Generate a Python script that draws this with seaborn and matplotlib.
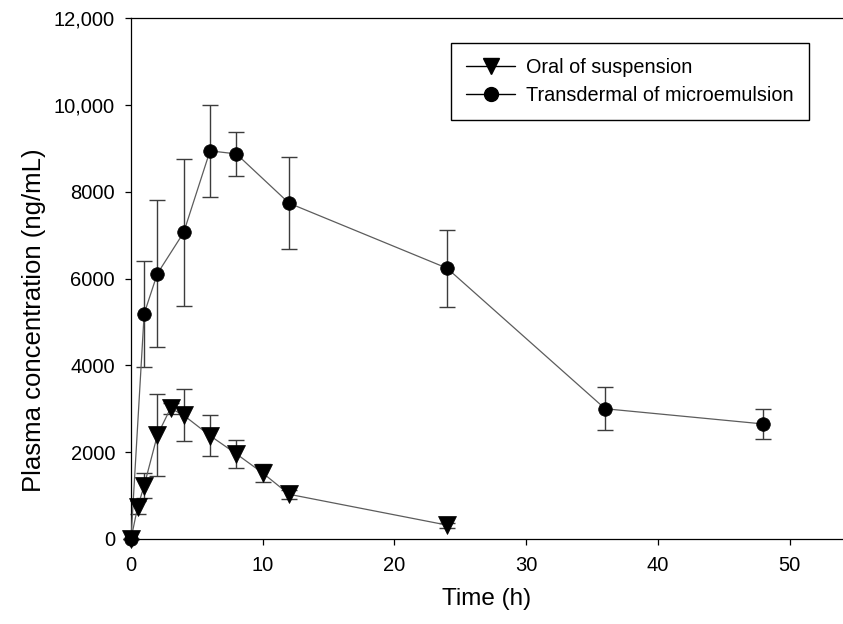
import matplotlib
matplotlib.use("Agg")
import matplotlib.pyplot as plt
import seaborn as sns
import pandas as pd
from matplotlib.lines import Line2D
from matplotlib.ticker import FixedLocator, FixedFormatter

# ---- data ----
oral_time = [0, 0.5, 1, 2, 3, 4, 6, 8, 10, 12, 24]
oral_conc = [0, 730, 1230, 2390, 3010, 2850, 2380, 1960, 1520, 1030, 320]
oral_sd = [0, 150, 280, 945, 120, 600, 470, 320, 210, 110, 60]

td_time = [0, 1, 2, 4, 6, 8, 12, 24, 36, 48]
td_conc = [0, 5190, 6110, 7060, 8940, 8870, 7735, 6237, 3000, 2650]
td_sd = [0, 1220, 1690, 1700, 1060, 510, 1060, 890, 490, 340]

series_labels = ["Oral of suspension", "Transdermal of microemulsion"]
x_ticks = [0, 10, 20, 30, 40, 50]
y_ticks = [0, 2000, 4000, 6000, 8000, 10000, 12000]
y_tick_labels = ["0", "2000", "4000", "6000", "8000", "10,000", "12,000"]

oral_df = pd.DataFrame({"time": oral_time, "conc": oral_conc, "sd": oral_sd})
td_df = pd.DataFrame({"time": td_time, "conc": td_conc, "sd": td_sd})

sns.set_theme(style="ticks")
plt.rcParams["font.family"] = ["Liberation Sans", "DejaVu Sans"]

fig = plt.figure(figsize=(8.43, 6.24), dpi=100)
ax = fig.add_axes([131 / 843, (624 - 539) / 624, 712 / 843, 521 / 624])

line_col = "#5c5c5c"
err_col = "#3c3c3c"

# error bars (behind markers)
ax.errorbar(td_df["time"], td_df["conc"], yerr=td_df["sd"], fmt="none",
            ecolor=err_col, elinewidth=1.0, capsize=5.5, capthick=1.0,
            zorder=2, clip_on=False)
ax.errorbar(oral_df["time"], oral_df["conc"], yerr=oral_df["sd"], fmt="none",
            ecolor=err_col, elinewidth=1.0, capsize=5.5, capthick=1.0,
            zorder=2, clip_on=False)

# lines + markers
sns.lineplot(data=td_df, x="time", y="conc", ax=ax, color=line_col, lw=0.9,
             marker="o", markersize=9.8, markerfacecolor="black",
             markeredgecolor="black", markeredgewidth=0.5, errorbar=None,
             sort=False, zorder=3, clip_on=False)
sns.lineplot(data=oral_df, x="time", y="conc", ax=ax, color=line_col, lw=0.9,
             marker="v", markersize=12.5, markerfacecolor="black",
             markeredgecolor="black", markeredgewidth=0.5, errorbar=None,
             sort=False, zorder=4, clip_on=False)

ax.set_xlim(0, 54.06)
ax.set_ylim(0, 12000)
ax.xaxis.set_major_locator(FixedLocator(x_ticks))
ax.yaxis.set_major_locator(FixedLocator(y_ticks))
ax.yaxis.set_major_formatter(FixedFormatter(y_tick_labels))

for side in ["left", "bottom", "top"]:
    ax.spines[side].set_visible(True)
    ax.spines[side].set_color("black")
    ax.spines[side].set_linewidth(0.9)
ax.spines["right"].set_visible(False)

ax.tick_params(axis="both", direction="out", length=4.5, width=0.9,
               color="black", labelcolor="black", labelsize=14.5)
ax.tick_params(axis="x", pad=8)
ax.tick_params(axis="y", pad=7)
ax.tick_params(top=False, right=False)

ax.set_xlabel("Time (h)", fontsize=17.5, color="black", labelpad=9)
ax.set_ylabel("Plasma concentration (ng/mL)", fontsize=18.5, color="black")
ax.yaxis.set_label_coords(-0.12, 0.42)

handles = [
    Line2D([0], [0], color="black", lw=1.0, marker="v", markersize=12,
           markerfacecolor="black", markeredgecolor="black"),
    Line2D([0], [0], color="black", lw=1.0, marker="o", markersize=10,
           markerfacecolor="black", markeredgecolor="black"),
]
leg = ax.legend(handles, series_labels, loc="upper right",
                bbox_to_anchor=(0.952, 0.952), borderaxespad=0,
                fontsize=14.3, frameon=True, fancybox=False, framealpha=1,
                edgecolor="black", handlelength=2.5, handletextpad=0.55,
                borderpad=0.75, labelspacing=0.45)
leg.get_frame().set_linewidth(1.0)
for t in leg.get_texts():
    t.set_color("black")

fig.savefig("out.png", dpi=100, facecolor="white")
